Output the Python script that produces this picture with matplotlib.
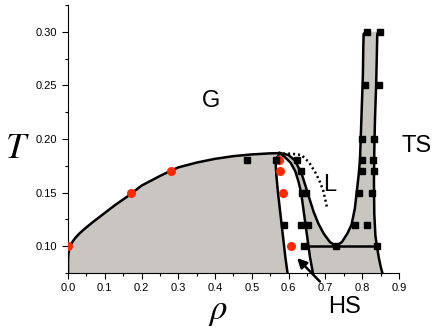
import matplotlib
matplotlib.use('Agg')
import matplotlib.pyplot as plt
from matplotlib.ticker import MultipleLocator, FormatStrFormatter

plt.rcParams['font.family'] = ['Liberation Sans', 'DejaVu Sans']
plt.rcParams['mathtext.fontset'] = 'stix'

# gas coexistence curve (left branch, up to the apex)
gas_rho = [0.000, 0.000, 0.001, 0.003, 0.0054, 0.010, 0.019, 0.030, 0.0417, 0.055,
           0.069, 0.096, 0.128, 0.160, 0.20, 0.25, 0.28, 0.30, 0.35, 0.40,
           0.45, 0.50, 0.55, 0.575]
gas_T = [0.075, 0.088, 0.093, 0.097, 0.0998, 0.103, 0.1074, 0.1115, 0.1152, 0.119,
         0.1229, 0.130, 0.1384, 0.146, 0.1565, 0.1655, 0.1705, 0.1735, 0.178, 0.1815,
         0.184, 0.1856, 0.1866, 0.1868]

# gas / HS boundary (right side of the gas dome)
ghs_rho = [0.575, 0.568, 0.565, 0.567, 0.571, 0.576, 0.581, 0.586, 0.591, 0.597]
ghs_T = [0.1868, 0.182, 0.175, 0.165, 0.15, 0.135, 0.12, 0.105, 0.09, 0.075]

# HS / coexistence boundary
hs_rho = [0.575, 0.59, 0.605, 0.618, 0.627, 0.634, 0.640, 0.646, 0.652, 0.658, 0.666]
hs_T = [0.1868, 0.183, 0.178, 0.17, 0.16, 0.15, 0.135, 0.12, 0.105, 0.09, 0.075]

# liquid pocket boundary (U shape)
liq_rho = [0.578, 0.60, 0.617, 0.635, 0.647, 0.656, 0.668, 0.681, 0.695, 0.712, 0.729,
           0.745, 0.76, 0.771, 0.780, 0.785, 0.790, 0.794, 0.796, 0.799, 0.802,
           0.803, 0.804, 0.812]
liq_T = [0.1868, 0.185, 0.18, 0.168, 0.155, 0.145, 0.132, 0.121, 0.112, 0.104, 0.100,
         0.104, 0.112, 0.12, 0.135, 0.15, 0.165, 0.18, 0.20, 0.23, 0.26,
         0.285, 0.298, 0.30]

# TS boundary
ts_rho = [0.848, 0.841, 0.840, 0.838, 0.835, 0.833, 0.832, 0.833, 0.836, 0.840,
          0.846, 0.851, 0.855]
ts_T = [0.30, 0.298, 0.28, 0.25, 0.22, 0.19, 0.16, 0.13, 0.11, 0.10,
        0.088, 0.08, 0.075]

# triple line
tri_rho = [0.655, 0.840]
tri_T = [0.10, 0.10]

# dotted line
dot_rho = [0.585, 0.61, 0.635, 0.656, 0.674, 0.685, 0.694, 0.700, 0.705]
dot_T = [0.1864, 0.1862, 0.185, 0.178, 0.168, 0.160, 0.152, 0.143, 0.135]

# red circles
red_rho = [0.0, 0.17, 0.28, 0.5745, 0.576, 0.585, 0.606]
red_T = [0.10, 0.15, 0.17, 0.18, 0.17, 0.15, 0.10]

# black squares
sq_rho = [0.486, 0.567, 0.622, 0.799, 0.830,
          0.634, 0.800, 0.832,
          0.635, 0.647, 0.792, 0.826,
          0.588, 0.634, 0.653, 0.780, 0.812,
          0.642, 0.730, 0.839,
          0.812, 0.848, 0.807, 0.846, 0.799, 0.832]
sq_T = [0.18, 0.18, 0.18, 0.18, 0.18,
        0.17, 0.17, 0.17,
        0.15, 0.15, 0.15, 0.15,
        0.12, 0.12, 0.12, 0.12, 0.12,
        0.10, 0.10, 0.10,
        0.30, 0.30, 0.25, 0.25, 0.20, 0.20]

grey = '#c9c5c1'

fig = plt.figure(figsize=(4.36, 3.27), dpi=100)
ax = fig.add_axes([0.156, 0.165, 0.759, 0.82])

# grey regions
ax.fill(gas_rho + ghs_rho[1:], gas_T + ghs_T[1:], color=grey, lw=0)
right_rho = hs_rho + ts_rho[::-1] + liq_rho[::-1]
right_T = hs_T + ts_T[::-1] + liq_T[::-1]
ax.fill(right_rho, right_T, color=grey, lw=0)

for xs, ys in [(gas_rho, gas_T), (ghs_rho, ghs_T), (hs_rho, hs_T),
               (liq_rho, liq_T), (ts_rho, ts_T), (tri_rho, tri_T)]:
    ax.plot(xs, ys, color='black', lw=1.8, solid_joinstyle='round')
ax.plot(dot_rho, dot_T, color='black', lw=1.8, ls=(0, (0.8, 1.2)))

ax.plot(red_rho, red_T, 'o', color='#ff2a00', ms=6.5, mec='none', zorder=4)
ax.plot(sq_rho, sq_T, 's', color='black', ms=3.8, zorder=5)

ax.set_xlim(0, 0.9)
ax.set_ylim(0.075, 0.325)
ax.spines['top'].set_visible(False)
ax.spines['right'].set_visible(False)
ax.xaxis.set_major_locator(MultipleLocator(0.1))
ax.xaxis.set_minor_locator(MultipleLocator(0.05))
ax.yaxis.set_major_locator(MultipleLocator(0.05))
ax.yaxis.set_minor_locator(MultipleLocator(0.025))
ax.xaxis.set_major_formatter(FormatStrFormatter('%.1f'))
ax.yaxis.set_major_formatter(FormatStrFormatter('%.2f'))
ax.tick_params(which='both', direction='out', labelsize=8, width=0.8)
ax.tick_params(which='major', length=4)
ax.tick_params(which='minor', length=2.5)

fig.text(0.04, 0.545, '$T$', fontsize=26, ha='center', va='center')
fig.text(0.5, 0.048, r'$\rho$', fontsize=25, ha='center', va='center')

ax.text(0.388, 0.235, 'G', fontsize=17, ha='center', va='center')
ax.text(0.712, 0.157, 'L', fontsize=17, ha='center', va='center')
ax.text(0.948, 0.193, 'TS', fontsize=17, ha='center', va='center', clip_on=False)
ax.annotate('HS', xy=(0.623, 0.089), xytext=(0.753, 0.043),
            fontsize=17, ha='center', va='center', annotation_clip=False,
            arrowprops=dict(arrowstyle='-|>', color='black', lw=1.8,
                            shrinkA=12, shrinkB=0, mutation_scale=14))

fig.savefig('out.png', dpi=100)
